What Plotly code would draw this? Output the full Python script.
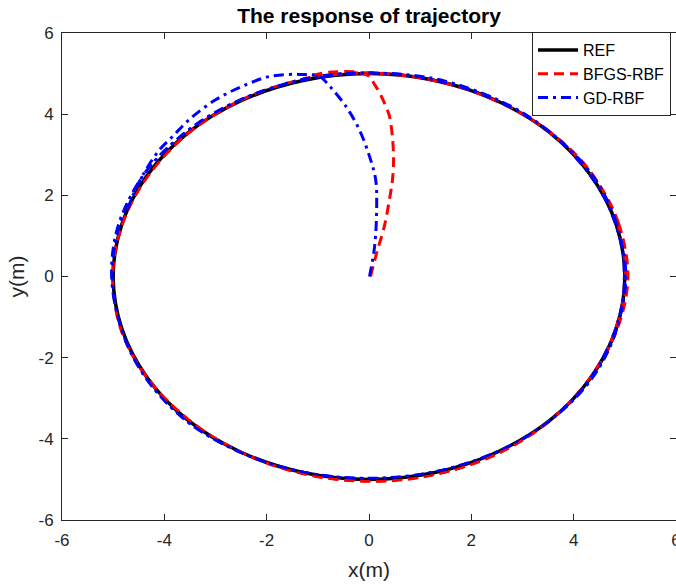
import numpy as np
import plotly.graph_objects as go

# ---- data ----
ref_x = [5.00, 4.83, 4.33, 3.54, 2.50, 1.29, 0.00, -1.29, -2.50, -3.54, -4.33, -4.83,
         -5.00, -4.83, -4.33, -3.54, -2.50, -1.29, 0.00, 1.29, 2.50, 3.54, 4.33, 4.83, 5.00]
ref_y = [0.00, 1.29, 2.50, 3.54, 4.33, 4.83, 5.00, 4.83, 4.33, 3.54, 2.50, 1.29,
         0.00, -1.29, -2.50, -3.54, -4.33, -4.83, -5.00, -4.83, -4.33, -3.54, -2.50, -1.29, 0.00]

# transient part (start at origin, then join the circle)
bfgs_start_x = [0.03, 0.15, 0.30, 0.40, 0.46, 0.48, 0.46, 0.40, 0.31, 0.21, 0.10, 0.01,
                -0.20, -0.50, -0.80, -1.05, -1.29]
bfgs_start_y = [0.00, 0.58, 1.24, 1.90, 2.40, 2.88, 3.40, 3.95, 4.25, 4.52, 4.75, 4.93,
                5.03, 5.05, 5.03, 4.97, 4.86]
gd_start_x = [0.01, 0.11, 0.15, 0.13, 0.01, -0.19, -0.45, -0.77, -0.97, -1.36, -1.94,
              -2.47, -2.99, -3.51, -3.83, -4.09, -4.35, -4.58, -4.72]
gd_start_y = [0.00, 0.75, 1.73, 2.39, 2.96, 3.62, 4.19, 4.69, 4.93, 4.98, 4.93,
              4.69, 4.36, 3.87, 3.46, 3.13, 2.65, 2.10, 1.65]

# steady-state laps: radius read at each angle (deg)
lap_angle_deg = [0, 15, 30, 45, 60, 75, 90, 105, 120, 135, 150, 165, 180,
                 195, 210, 225, 240, 255, 270, 285, 300, 315, 330, 345, 360]
bfgs_lap_r = [
    [5.07, 5.05, 5.02, 5.00, 4.99, 5.01, 5.03, 5.03, 5.00, 4.98, 4.98, 5.00, 5.02,
     5.01, 4.99, 4.98, 5.01, 5.04, 5.05, 5.05, 5.03, 5.00, 4.99, 5.03, 5.07],
    [5.04, 5.06, 5.04, 5.01, 4.98, 4.99, 5.02, 5.04, 5.02, 4.99, 4.97, 4.99, 5.01,
     5.03, 5.00, 4.98, 5.00, 5.03, 5.06, 5.06, 5.04, 5.01, 4.98, 5.00, 5.04],
    [5.00, 5.02, 5.05, 5.03, 5.00, 4.98, 5.00, 5.02, 5.03, 5.01, 4.98, 4.98, 5.00,
     5.02, 5.02, 4.99, 4.99, 5.02, 5.04, 5.05, 5.05, 5.02, 4.99, 4.98, 5.00],
]
gd_lap_r = [
    [5.00, 4.98, 5.00, 5.03, 5.04, 5.02, 5.00, 5.01, 5.04, 5.06, 5.06, 5.03, 5.01,
     5.02, 5.04, 5.03, 5.00, 4.98, 4.97, 4.98, 4.99, 5.00, 4.99, 4.98, 5.00],
    [5.03, 5.01, 4.98, 5.00, 5.03, 5.05, 5.02, 5.00, 5.03, 5.05, 5.08, 5.05, 5.02,
     5.00, 5.03, 5.05, 5.02, 4.99, 4.98, 4.97, 4.98, 5.02, 5.03, 5.01, 5.03],
    [4.98, 5.02, 5.04, 5.02, 4.99, 5.00, 5.03, 5.04, 5.02, 5.04, 5.06, 5.07, 5.04,
     5.01, 5.02, 5.04, 5.01, 4.98, 4.96, 4.97, 4.99, 5.01, 5.04, 5.02, 4.98],
]

tick_vals = [-6, -4, -2, 0, 2, 4, 6]
tick_text = ["-6", "-4", "-2", "0", "2", "4", "6"]

RED = "#ff0000"
BLUE = "#0000ff"
RED_DASH = "10px,6px"
BLUE_DASH = "10px,5px,3px,5px"
FONT = "Liberation Sans, Arial, sans-serif"

ang = np.deg2rad(np.array(lap_angle_deg, dtype=float))

fig = go.Figure()
fig.add_trace(go.Scatter(x=ref_x, y=ref_y, mode="lines", name="REF",
                         line=dict(color="black", width=3.5, shape="spline")))
for r in bfgs_lap_r:
    r = np.array(r)
    fig.add_trace(go.Scatter(x=r * np.cos(ang), y=r * np.sin(ang), mode="lines",
                             showlegend=False, hoverinfo="skip",
                             line=dict(color=RED, width=2, dash=RED_DASH, shape="spline")))
fig.add_trace(go.Scatter(x=bfgs_start_x, y=bfgs_start_y, mode="lines", name="BFGS-RBF",
                         line=dict(color=RED, width=3, dash=RED_DASH, shape="spline")))
for r in gd_lap_r:
    r = np.array(r)
    fig.add_trace(go.Scatter(x=r * np.cos(ang), y=r * np.sin(ang), mode="lines",
                             showlegend=False, hoverinfo="skip",
                             line=dict(color=BLUE, width=2, dash=BLUE_DASH, shape="spline")))
fig.add_trace(go.Scatter(x=gd_start_x, y=gd_start_y, mode="lines", name="GD-RBF",
                         line=dict(color=BLUE, width=3, dash=BLUE_DASH, shape="spline")))

axis_common = dict(
    range=[-6, 6], tickvals=tick_vals, ticktext=tick_text, ticks="inside", ticklen=6,
    tickwidth=1, tickcolor="#262626", showline=True, linecolor="#262626", linewidth=1,
    mirror="allticks", showgrid=False, zeroline=False, ticklabeloverflow="allow",
    automargin=False,
    tickfont=dict(family=FONT, size=17, color="#262626"),
)

fig.update_layout(
    width=676, height=584,
    margin=dict(l=62, r=0, t=33, b=64, autoexpand=False),
    paper_bgcolor="white", plot_bgcolor="white",
    title=dict(text="<b>The response of trajectory</b>", x=0.5, xref="paper",
               y=1 - 16 / 584, yanchor="middle",
               font=dict(family=FONT, size=21, color="black")),
    xaxis=dict(**axis_common, ticklabelstandoff=5,
               title=dict(text="x(m)", standoff=12,
                          font=dict(family=FONT, size=21, color="#262626"))),
    yaxis=dict(**axis_common, ticklabelstandoff=4,
               title=dict(text="y(m)", standoff=8,
                          font=dict(family=FONT, size=21, color="#262626"))),
    legend=dict(x=(532 - 62) / 614, y=1.002, xanchor="left", yanchor="top",
                bgcolor="white", bordercolor="#262626", borderwidth=1,
                font=dict(family=FONT, size=16, color="black"),
                tracegroupgap=0, itemwidth=40),
    showlegend=True,
)

fig.write_html("out.html")
